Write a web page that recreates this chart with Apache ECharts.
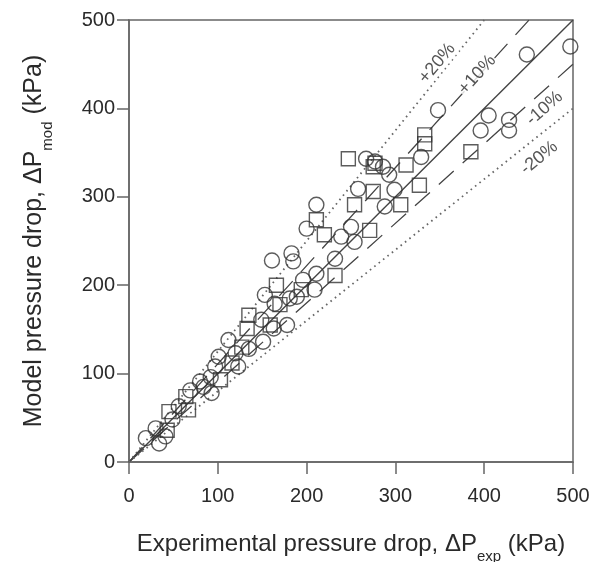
<!DOCTYPE html>
<html>
<head>
<meta charset="utf-8">
<script src="https://cdn.jsdelivr.net/npm/echarts@6/dist/echarts.min.js"></script>
<style>
  html, body { margin: 0; padding: 0; background: #fff; }
  #chart { width: 594px; height: 562px; }
</style>
</head>
<body>
<div id="chart"></div>
<script>
// Axis ticks (kPa)
const tickValues = [0, 100, 200, 300, 400, 500];

// Data set A (circles): [experimental, model] pressure drop in kPa
const circlePoints = [
  [19,27],[34,21],[30,38],[41,29],[49,48],[56,63],[69,81],[80,91],[84,85],[92,96],
  [93,78],[97,108],[101,119],[112,138],[120,123],[123,108],[135,128],[149,161],[151,136],[153,189],
  [161,228],[163,151],[164,179],[178,155],[181,185],[183,236],[185,227],[189,187],[196,206],[200,264],
  [209,195],[211,291],[211,213],[232,230],[239,255],[250,266],[254,249],[258,309],[267,343],[277,340],
  [286,334],[288,289],[293,325],[299,308],[329,345],[348,398],[396,375],[405,392],[428,387],[428,375],
  [448,461],[497,470]
];

// Data set B (squares): [experimental, model] pressure drop in kPa
const squarePoints = [
  [43,36],[45,57],[64,74],[67,59],[103,93],[116,112],[127,130],[133,151],[135,166],[159,155],
  [166,200],[170,178],[194,195],[211,274],[220,257],[232,211],[247,343],[254,291],[271,262],[275,306],
  [275,334],[277,338],[306,291],[312,336],[327,313],[333,360],[333,370],[385,351]
];

// Deviation bands: label and model/experimental ratio
const bandNames  = ['+20%', '+10%', '-10%', '-20%'];
const bandRatios = [1.25, 1.11, 0.9, 0.8];

const AX_MAX = 500;
function bandLine(r) {
  return r >= 1 ? [[0, 0], [AX_MAX / r, AX_MAX]] : [[0, 0], [AX_MAX, AX_MAX * r]];
}

const FONT = '"Liberation Sans", Arial, Helvetica, sans-serif';
const TXT = '#2a2a2a';
const MARK = '#333';

const dotted = { color: '#666', width: 1.8, type: [1.6, 4] };
const dashed = { color: '#444', width: 1.3, type: [20, 12] };

const lineSeries = [
  { type: 'line', data: [[0, 0], [AX_MAX, AX_MAX]], symbol: 'none', silent: true, z: 1,
    lineStyle: { color: '#444', width: 1.4 } },
  { type: 'line', data: bandLine(bandRatios[0]), symbol: 'none', silent: true, z: 1, lineStyle: dotted },
  { type: 'line', data: bandLine(bandRatios[1]), symbol: 'none', silent: true, z: 1, lineStyle: dashed },
  { type: 'line', data: bandLine(bandRatios[2]), symbol: 'none', silent: true, z: 1, lineStyle: dashed },
  { type: 'line', data: bandLine(bandRatios[3]), symbol: 'none', silent: true, z: 1, lineStyle: dotted }
];

// Rotated band labels placed beside their lines
const labelSpots = [
  { at: [347, 451], rot: 50 },
  { at: [392, 438], rot: 48 },
  { at: [468, 400], rot: 41 },
  { at: [462, 344], rot: 39 }
];
const labelSeries = {
  type: 'scatter', silent: true, z: 3, symbolSize: 0,
  data: labelSpots.map((s, i) => ({
    value: s.at,
    label: {
      show: true, position: 'inside', formatter: bandNames[i], rotate: s.rot,
      fontFamily: FONT, fontSize: 18, color: TXT,
      backgroundColor: '#fff', padding: [0, 1]
    }
  }))
};

function nameRich(size) {
  return {
    a: { fontFamily: FONT, fontSize: size, color: TXT, verticalAlign: 'top', lineHeight: size + 8 },
    s: { fontFamily: FONT, fontSize: 15, color: TXT, verticalAlign: 'bottom', lineHeight: 16 }
  };
}

const option = {
  animation: false,
  backgroundColor: '#fff',
  grid: { left: 129, right: 21, top: 20, bottom: 100, show: true,
          containLabel: false, outerBoundsMode: 'none',
          borderColor: '#666', borderWidth: 1.5 },
  xAxis: {
    type: 'value', min: 0, max: AX_MAX, interval: 100,
    axisLine: { show: true, onZero: false, lineStyle: { color: '#666', width: 1.5 } },
    axisTick: { show: true, inside: false, length: 12, lineStyle: { color: '#666', width: 1.5 } },
    axisLabel: { fontFamily: FONT, fontSize: 20, color: TXT, margin: 24,
                 formatter: v => tickValues.includes(v) ? String(v) : '' },
    splitLine: { show: false },
    nameLocation: 'middle', nameGap: 70,
    name: '{a|Experimental pressure drop, \u0394P}{s|exp}{a| (kPa)}',
    nameTextStyle: { rich: nameRich(24) }
  },
  yAxis: {
    type: 'value', min: 0, max: AX_MAX, interval: 100,
    axisLine: { show: true, onZero: false, lineStyle: { color: '#666', width: 1.5 } },
    axisTick: { show: true, inside: false, length: 12, lineStyle: { color: '#666', width: 1.5 } },
    axisLabel: { fontFamily: FONT, fontSize: 20, color: TXT, margin: 14,
                 formatter: v => tickValues.includes(v) ? String(v) : '' },
    splitLine: { show: false },
    nameLocation: 'middle', nameGap: 74, nameRotate: 90,
    name: '{a|Model pressure drop, \u0394P}{s|mod}{a| (kPa)}',
    nameTextStyle: { rich: nameRich(25) }
  },
  series: [
    ...lineSeries,
    labelSeries,
    { type: 'scatter', data: squarePoints, symbol: 'rect', symbolSize: 14, z: 2,
      itemStyle: { color: 'rgba(255,255,255,0)', borderColor: MARK, borderWidth: 1.4 } },
    { type: 'scatter', data: circlePoints, symbol: 'circle', symbolSize: 15, z: 2,
      itemStyle: { color: 'rgba(255,255,255,0)', borderColor: MARK, borderWidth: 1.4 } }
  ]
};

const chart = echarts.init(document.getElementById('chart'), null, { renderer: 'canvas' });
chart.setOption(option);
</script>
</body>
</html>
